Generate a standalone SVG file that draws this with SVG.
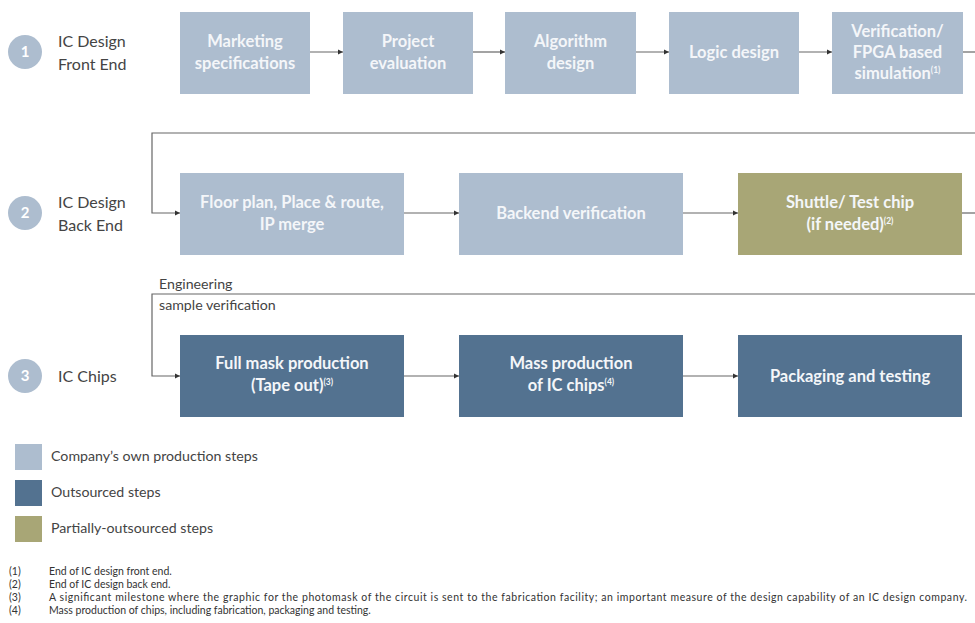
<svg xmlns="http://www.w3.org/2000/svg" width="975" height="623" viewBox="0 0 975 623">
<style>
.own{fill:#adbdcf}
.out{fill:#537290}
.part{fill:#a8a676}
.bt{font-family:Lato,"Liberation Sans",sans-serif;font-weight:bold;font-size:16.5px;fill:#f4f6f9;text-anchor:middle}
.sup{font-size:8.5px}
.lbl{font-family:Lato,"Liberation Sans",sans-serif;font-size:16px;fill:#444}
.num{font-family:Lato,"Liberation Sans",sans-serif;font-weight:bold;font-size:15px;fill:#fff;text-anchor:middle}
.circ{fill:#adbdcf}
.leg{font-family:Lato,"Liberation Sans",sans-serif;font-size:14.2px;fill:#444}
.fn{font-family:Lato,"Liberation Sans",sans-serif;font-size:10.5px;fill:#333}
.ln{fill:none;stroke:#666;stroke-width:1.2}
</style>
<defs>
<marker id="ah" markerWidth="6" markerHeight="6" refX="5" refY="3" orient="auto" markerUnits="userSpaceOnUse">
<path d="M0,0.5 L5,3 L0,5.5 Z" fill="#333"/>
</marker>
</defs>

<g id="stages">
<g id="stage1"><circle class="circ" cx="25" cy="52" r="17"/><text class="num" x="25" y="57">1</text>
<text class="lbl" x="58" y="47">IC Design</text><text class="lbl" x="58" y="70">Front End</text></g>
<g id="stage2"><circle class="circ" cx="25" cy="213" r="17"/><text class="num" x="25" y="218">2</text>
<text class="lbl" x="58" y="208">IC Design</text><text class="lbl" x="58" y="231">Back End</text></g>
<g id="stage3"><circle class="circ" cx="25" cy="376" r="17"/><text class="num" x="25" y="381">3</text>
<text class="lbl" x="58" y="382">IC Chips</text></g>
</g>

<g id="connectors">
<line class="ln" x1="310" y1="52" x2="343" y2="52" marker-end="url(#ah)"/>
<line class="ln" x1="473" y1="52" x2="505" y2="52" marker-end="url(#ah)"/>
<line class="ln" x1="636" y1="52" x2="669" y2="52" marker-end="url(#ah)"/>
<line class="ln" x1="799" y1="52" x2="832" y2="52" marker-end="url(#ah)"/>
<line class="ln" x1="963" y1="52" x2="975" y2="52"/>
<polyline class="ln" points="975,133 152,133 152,213 180,213" marker-end="url(#ah)"/>
<line class="ln" x1="404" y1="213" x2="459" y2="213" marker-end="url(#ah)"/>
<line class="ln" x1="683" y1="213" x2="738" y2="213" marker-end="url(#ah)"/>
<line class="ln" x1="962" y1="213" x2="975" y2="213"/>
<polyline class="ln" points="975,294 152,294 152,376 180,376" marker-end="url(#ah)"/>
<line class="ln" x1="404" y1="376" x2="459" y2="376" marker-end="url(#ah)"/>
<line class="ln" x1="683" y1="376" x2="738" y2="376" marker-end="url(#ah)"/>
<text class="leg" x="159" y="289">Engineering</text>
<text class="leg" x="159" y="310">sample verification</text>
</g>

<g id="n1"><rect class="own" x="180" y="12" width="130" height="82"/><text class="bt" x="245" y="47">Marketing</text><text class="bt" x="245" y="69">specifications</text></g>
<g id="n2"><rect class="own" x="343" y="12" width="130" height="82"/><text class="bt" x="408" y="47">Project</text><text class="bt" x="408" y="69">evaluation</text></g>
<g id="n3"><rect class="own" x="505" y="12" width="131" height="82"/><text class="bt" x="570.5" y="47">Algorithm</text><text class="bt" x="570.5" y="69">design</text></g>
<g id="n4"><rect class="own" x="669" y="12" width="130" height="82"/><text class="bt" x="734" y="58">Logic design</text></g>
<g id="n5"><rect class="own" x="832" y="12" width="131" height="82"/><text class="bt" x="897.5" y="37">Verification/</text><text class="bt" x="897.5" y="58">FPGA based</text><text class="bt" x="897.5" y="79">simulation<tspan class="sup" dy="-6">(1)</tspan></text></g>

<g id="n6"><rect class="own" x="180" y="173" width="224" height="82"/><text class="bt" x="292" y="208">Floor plan, Place &amp; route,</text><text class="bt" x="292" y="230">IP merge</text></g>
<g id="n7"><rect class="own" x="459" y="173" width="224" height="82"/><text class="bt" x="571" y="219">Backend verification</text></g>
<g id="n8"><rect class="part" x="738" y="173" width="224" height="82"/><text class="bt" x="850" y="208">Shuttle/ Test chip</text><text class="bt" x="850" y="230">(if needed)<tspan class="sup" dy="-6">(2)</tspan></text></g>

<g id="n9"><rect class="out" x="180" y="335" width="224" height="82"/><text class="bt" x="292" y="369">Full mask production</text><text class="bt" x="292" y="391">(Tape out)<tspan class="sup" dy="-6">(3)</tspan></text></g>
<g id="n10"><rect class="out" x="459" y="335" width="224" height="82"/><text class="bt" x="571" y="369">Mass production</text><text class="bt" x="571" y="391">of IC chips<tspan class="sup" dy="-6">(4)</tspan></text></g>
<g id="n11"><rect class="out" x="738" y="335" width="224" height="82"/><text class="bt" x="850" y="382">Packaging and testing</text></g>

<g id="legend">
<rect class="own" x="15" y="444" width="27" height="26"/><text class="leg" x="51" y="461">Company’s own production steps</text>
<rect class="out" x="15" y="480" width="27" height="26"/><text class="leg" x="51" y="497">Outsourced steps</text>
<rect class="part" x="15" y="516" width="27" height="26"/><text class="leg" x="51" y="533">Partially-outsourced steps</text>
</g>

<g id="footnotes">
<text class="fn" x="9" y="575">(1)</text><text class="fn" x="49" y="575">End of IC design front end.</text>
<text class="fn" x="9" y="588">(2)</text><text class="fn" x="49" y="588">End of IC design back end.</text>
<text class="fn" x="9" y="601">(3)</text><text class="fn" x="49" y="601" textLength="918" lengthAdjust="spacing">A significant milestone where the graphic for the photomask of the circuit is sent to the fabrication facility; an important measure of the design capability of an IC design company.</text>
<text class="fn" x="9" y="614">(4)</text><text class="fn" x="49" y="614">Mass production of chips, including fabrication, packaging and testing.</text>
</g>
</svg>
